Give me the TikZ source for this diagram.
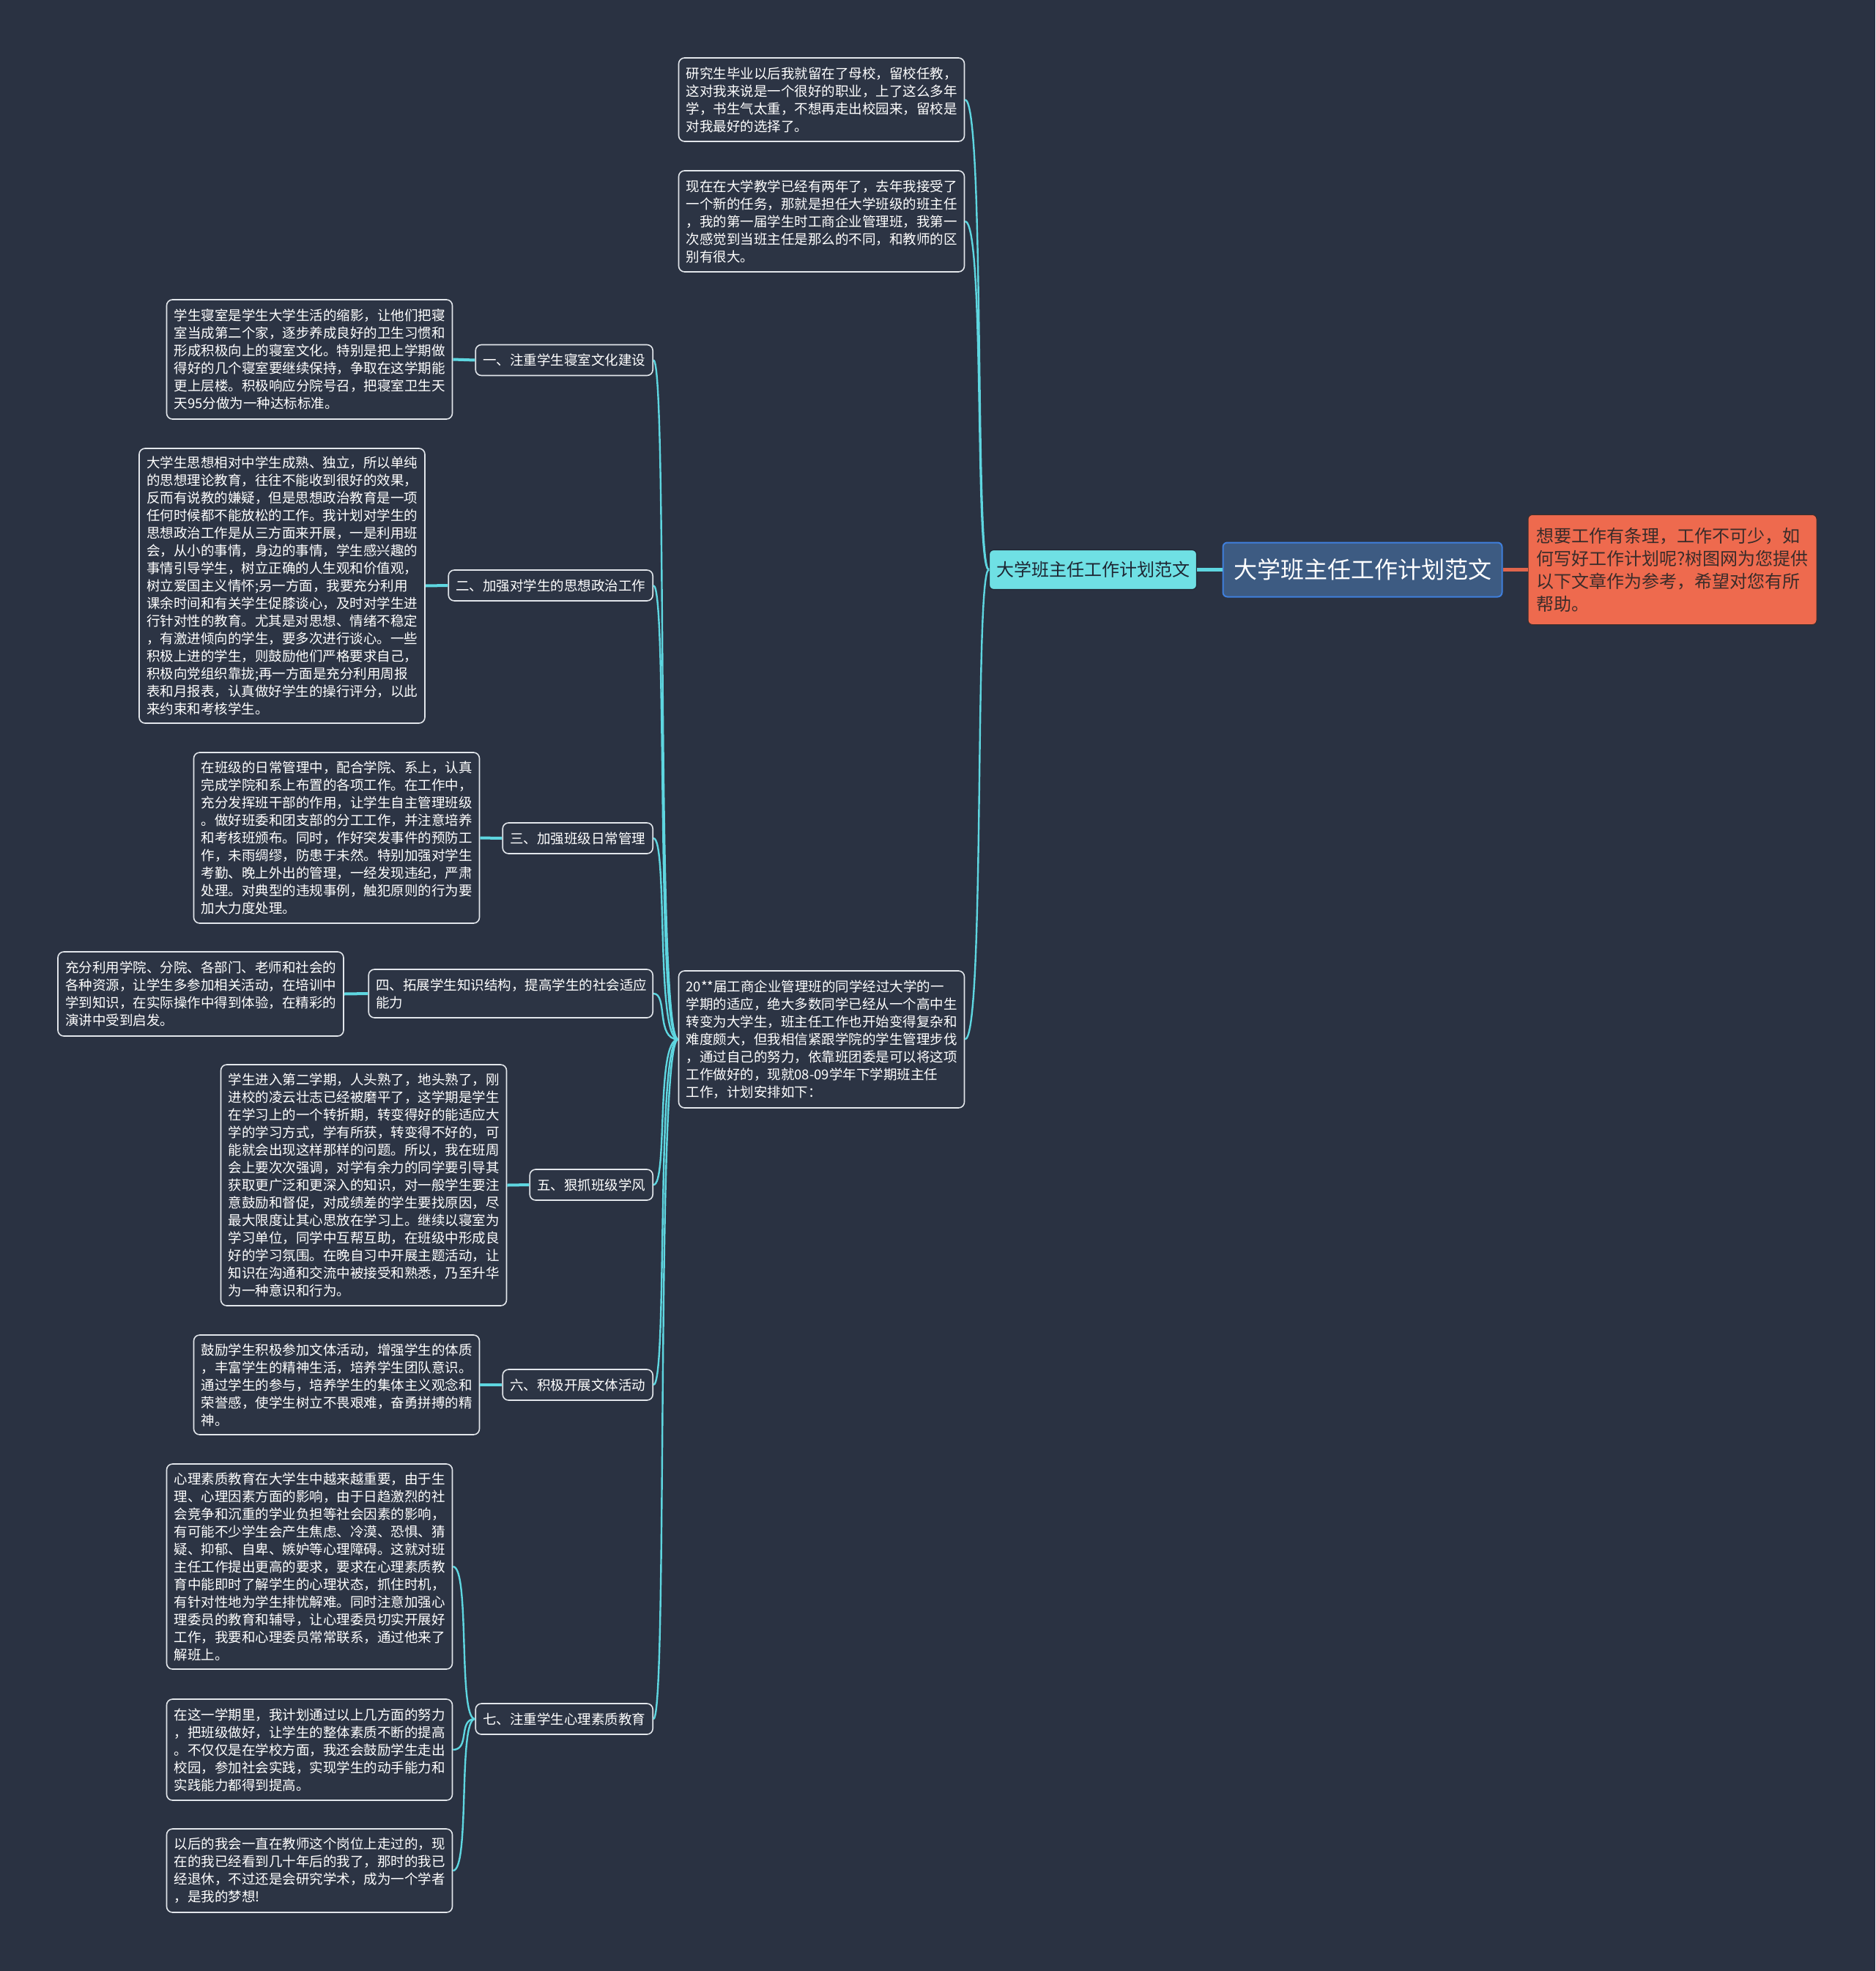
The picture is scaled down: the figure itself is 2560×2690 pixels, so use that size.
\documentclass[tikz,border=0pt]{standalone}
\usepackage{fontspec}
\setmainfont{Noto Sans CJK SC}
\setlength{\parindent}{0pt}
\definecolor{bgc}{HTML}{2A3242}
\definecolor{leaffill}{HTML}{2C3444}
\definecolor{leafborder}{HTML}{E2E6EB}
\definecolor{cyanline}{HTML}{5ED6E0}
\definecolor{cyanfill}{HTML}{6FE0E4}
\definecolor{rootfill}{HTML}{3D5B82}
\definecolor{rootborder}{HTML}{3F7FDC}
\definecolor{orangefill}{HTML}{EE6A4E}
\definecolor{orangeline}{HTML}{E0654C}
\definecolor{darktext}{HTML}{1E2633}
\definecolor{orangetext}{HTML}{3A2C2A}
\tikzset{
  leaf/.style={draw=leafborder, line width=1.6pt, fill=leaffill, rounded corners=8pt,
    text=white, font=\fontsize{18.5}{24}\selectfont, align=left, text width=370pt,
    inner xsep=10pt, inner ysep=6pt},
  lab/.style={draw=leafborder, line width=1.6pt, fill=leaffill, rounded corners=8pt,
    text=white, font=\fontsize{18.5}{24}\selectfont, inner xsep=10pt, inner ysep=6pt,
    minimum height=42pt, anchor=east},
  br/.style={draw=cyanline, line width=2.4pt},
  twig/.style={draw=cyanline, line width=4pt},
}
\begin{document}
\begin{tikzpicture}[x=1pt,y=-1pt]
\useasboundingbox (0,0) rectangle (2560,2690);
\fill[bgc] (0,0) rectangle (2560,2690);

% centre nodes
\node[draw=rootborder, line width=2pt, fill=rootfill, rounded corners=6pt, text=white,
  font=\fontsize{32}{38}\selectfont, minimum width=381pt, minimum height=74pt]
  (root) at (1860,777.5) {大学班主任工作计划范文};
\node[draw=darktext, line width=1.2pt, fill=cyanfill, rounded corners=6pt, text=darktext,
  font=\fontsize{24}{30}\selectfont, minimum width=283pt, minimum height=54pt]
  (sub) at (1492,777.5) {大学班主任工作计划范文};
\node[draw=orangetext, line width=1pt, fill=orangefill, rounded corners=6pt, text=orangetext,
  font=\fontsize{24}{31}\selectfont, align=left, text width=372pt, inner xsep=11pt,
  minimum height=150pt] (intro) at (2283,777.5)
  {想要工作有条理，工作不可少，如\\何写好工作计划呢?树图网为您提供\\以下文章作为参考，希望对您有所\\帮助。};

% second column
\node[leaf, minimum height=114pt] (pa) at (1121.5,136)
  {研究生毕业以后我就留在了母校，留校任教，\\这对我来说是一个很好的职业，上了这么多年\\学，书生气太重，不想再走出校园来，留校是\\对我最好的选择了。};
\node[leaf, minimum height=138pt] (pb) at (1121.5,302)
  {现在在大学教学已经有两年了，去年我接受了\\一个新的任务，那就是担任大学班级的班主任\\，我的第一届学生时工商企业管理班，我第一\\次感觉到当班主任是那么的不同，和教师的区\\别有很大。};
\node[leaf, minimum height=187pt] (pc) at (1121.5,1418.5)
  {20**届工商企业管理班的同学经过大学的一\\学期的适应，绝大多数同学已经从一个高中生\\转变为大学生，班主任工作也开始变得复杂和\\难度颇大，但我相信紧跟学院的学生管理步伐\\，通过自己的努力，依靠班团委是可以将这项\\工作做好的，现就08-09学年下学期班主任\\工作，计划安排如下：};

% labels
\node[lab] (k1) at (892,491.5) {一、注重学生寝室文化建设};
\node[lab] (k2) at (892,799) {二、加强对学生的思想政治工作};
\node[lab] (k3) at (892,1144) {三、加强班级日常管理};
\node[lab, align=left, text width=368pt, minimum height=66pt] (k4) at (892,1356) {四、拓展学生知识结构，提高学生的社会适应\\能力};
\node[lab] (k5) at (892,1617) {五、狠抓班级学风};
\node[lab] (k6) at (892,1890) {六、积极开展文体活动};
\node[lab] (k7) at (892,2346) {七、注重学生心理素质教育};

% leaves
\node[leaf, minimum height=163pt] (l1) at (422.5,490.5)
  {学生寝室是学生大学生活的缩影，让他们把寝\\室当成第二个家，逐步养成良好的卫生习惯和\\形成积极向上的寝室文化。特别是把上学期做\\得好的几个寝室要继续保持，争取在这学期能\\更上层楼。积极响应分院号召，把寝室卫生天\\天95分做为一种达标标准。};
\node[leaf, minimum height=375pt] (l2) at (385,799.5)
  {大学生思想相对中学生成熟、独立，所以单纯\\的思想理论教育，往往不能收到很好的效果，\\反而有说教的嫌疑，但是思想政治教育是一项\\任何时候都不能放松的工作。我计划对学生的\\思想政治工作是从三方面来开展，一是利用班\\会，从小的事情，身边的事情，学生感兴趣的\\事情引导学生，树立正确的人生观和价值观，\\树立爱国主义情怀;另一方面，我要充分利用\\课余时间和有关学生促膝谈心，及时对学生进\\行针对性的教育。尤其是对思想、情绪不稳定\\，有激进倾向的学生，要多次进行谈心。一些\\积极上进的学生，则鼓励他们严格要求自己，\\积极向党组织靠拢;再一方面是充分利用周报\\表和月报表，认真做好学生的操行评分，以此\\来约束和考核学生。};
\node[leaf, minimum height=233pt] (l3) at (459.5,1143.5)
  {在班级的日常管理中，配合学院、系上，认真\\完成学院和系上布置的各项工作。在工作中，\\充分发挥班干部的作用，让学生自主管理班级\\。做好班委和团支部的分工工作，并注意培养\\和考核班颁布。同时，作好突发事件的预防工\\作，未雨绸缪，防患于未然。特别加强对学生\\考勤、晚上外出的管理，一经发现违纪，严肃\\处理。对典型的违规事例，触犯原则的行为要\\加大力度处理。};
\node[leaf, minimum height=115pt] (l4) at (274,1356.5)
  {充分利用学院、分院、各部门、老师和社会的\\各种资源，让学生多参加相关活动，在培训中\\学到知识，在实际操作中得到体验，在精彩的\\演讲中受到启发。};
\node[leaf, minimum height=329pt] (l5) at (496.5,1617.5)
  {学生进入第二学期，人头熟了，地头熟了，刚\\进校的凌云壮志已经被磨平了，这学期是学生\\在学习上的一个转折期，转变得好的能适应大\\学的学习方式，学有所获，转变得不好的，可\\能就会出现这样那样的问题。所以，我在班周\\会上要次次强调，对学有余力的同学要引导其\\获取更广泛和更深入的知识，对一般学生要注\\意鼓励和督促，对成绩差的学生要找原因，尽\\最大限度让其心思放在学习上。继续以寝室为\\学习单位，同学中互帮互助，在班级中形成良\\好的学习氛围。在晚自习中开展主题活动，让\\知识在沟通和交流中被接受和熟悉，乃至升华\\为一种意识和行为。};
\node[leaf, minimum height=136pt] (l6) at (459.5,1890)
  {鼓励学生积极参加文体活动，增强学生的体质\\，丰富学生的精神生活，培养学生团队意识。\\通过学生的参与，培养学生的集体主义观念和\\荣誉感，使学生树立不畏艰难，奋勇拼搏的精\\神。};
\node[leaf, minimum height=280pt] (l7a) at (422.5,2138)
  {心理素质教育在大学生中越来越重要，由于生\\理、心理因素方面的影响，由于日趋激烈的社\\会竞争和沉重的学业负担等社会因素的影响，\\有可能不少学生会产生焦虑、冷漠、恐惧、猜\\疑、抑郁、自卑、嫉妒等心理障碍。这就对班\\主任工作提出更高的要求，要求在心理素质教\\育中能即时了解学生的心理状态，抓住时机，\\有针对性地为学生排忧解难。同时注意加强心\\理委员的教育和辅导，让心理委员切实开展好\\工作，我要和心理委员常常联系，通过他来了\\解班上。};
\node[leaf, minimum height=138pt] (l7b) at (422.5,2388)
  {在这一学期里，我计划通过以上几方面的努力\\，把班级做好，让学生的整体素质不断的提高\\。不仅仅是在学校方面，我还会鼓励学生走出\\校园，参加社会实践，实现学生的动手能力和\\实践能力都得到提高。};
\node[leaf, minimum height=114pt] (l7c) at (422.5,2553)
  {以后的我会一直在教师这个岗位上走过的，现\\在的我已经看到几十年后的我了，那时的我已\\经退休，不过还是会研究学术，成为一个学者\\，是我的梦想!};

% connectors
\draw[draw=cyanline, line width=5pt] (sub.east) -- (root.west);
\draw[draw=orangeline, line width=5pt] (root.east) -- (intro.west);
\draw[br] (sub.west) .. controls (1330,777.5) and (1345,136) .. (pa.east);
\draw[br] (sub.west) .. controls (1330,777.5) and (1345,302) .. (pb.east);
\draw[br] (sub.west) .. controls (1330,777.5) and (1345,1418.5) .. (pc.east);
\foreach \k/\y in {k1/491.5,k2/799,k3/1144,k4/1356,k5/1617,k6/1890,k7/2346}{
  \draw[br] (pc.west) .. controls (895,1418.5) and (912,\y) .. (\k.east);
}
\draw[twig] (k1.west) -- (l1.east);
\draw[twig] (k2.west) -- (l2.east);
\draw[twig] (k3.west) -- (l3.east);
\draw[twig] (k4.west) -- (l4.east);
\draw[twig] (k5.west) -- (l5.east);
\draw[twig] (k6.west) -- (l6.east);
\draw[br] (k7.west) .. controls (625,2346) and (642,2138) .. (l7a.east);
\draw[br] (k7.west) .. controls (625,2346) and (642,2388) .. (l7b.east);
\draw[br] (k7.west) .. controls (625,2346) and (642,2553) .. (l7c.east);
\end{tikzpicture}
\end{document}
